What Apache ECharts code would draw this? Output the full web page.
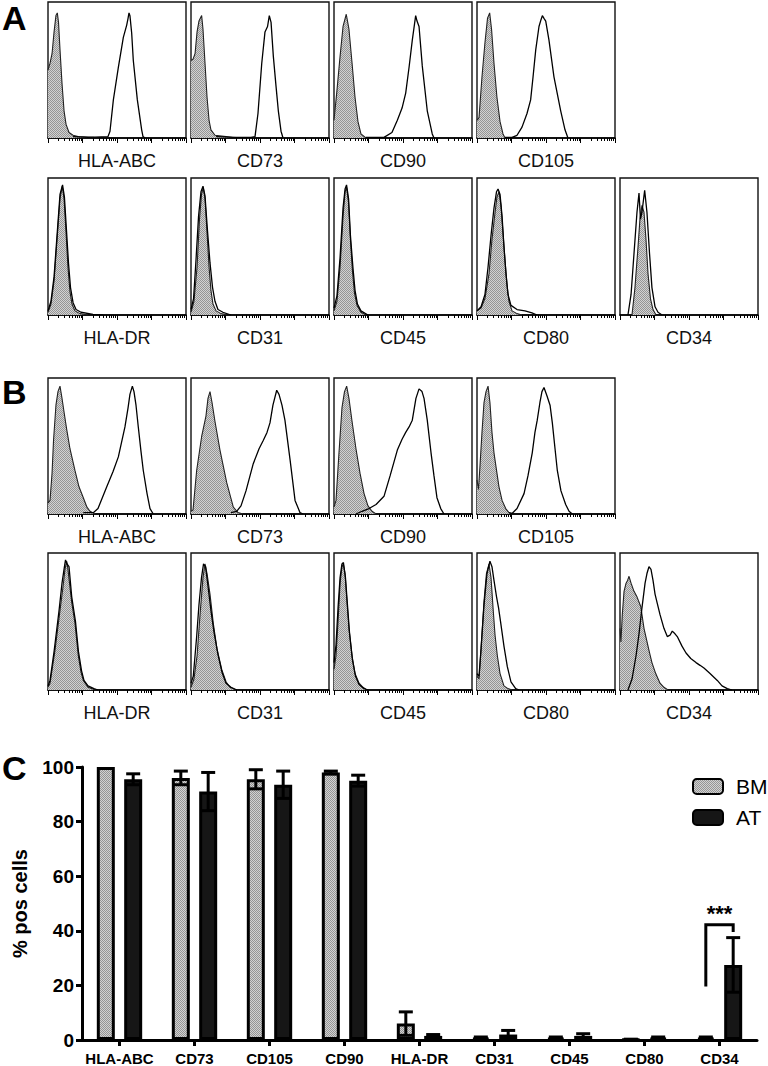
<!DOCTYPE html>
<html><head><meta charset="utf-8">
<script src="https://cdn.jsdelivr.net/npm/echarts@6/dist/echarts.min.js"></script>
<style>html,body{margin:0;padding:0;background:#fff}#c{width:768px;height:1066px}</style>
</head><body><div id="c"></div>
<script>
// ---------- Panel C data ----------
const markers = ['HLA-ABC','CD73','CD105','CD90','HLA-DR','CD31','CD45','CD80','CD34'];
const bmMean = [100, 96, 95.5, 98, 6, 0.8, 0.8, 0.2, 0.8];
const bmErr  = [0, 2.5, 3.5, 0.5, 4.3, 0.3, 0.3, 0.1, 0.3];
const atMean = [95.5, 91, 93.5, 95, 1.5, 2, 1.5, 0.8, 27.5];
const atErr  = [2, 7, 5, 2, 0.5, 1.5, 0.8, 0.3, 10];
const yTicks = [0, 20, 40, 60, 80, 100];
// significance bracket for CD34: [category index, left-leg bottom, bracket top, right-leg bottom, star level]
const sigBracket = [8, 19.6, 42.2, 39.6, 46.2];
const sigText = '***';

// ---------- Histogram labels ----------
const posMarkers = ['HLA-ABC','CD73','CD90','CD105'];
const negMarkers = ['HLA-DR','CD31','CD45','CD80','CD34'];

// ---------- Histogram curves: [channel (0-1024, 4 log decades), % of max] ----------
// Panel A, positive markers
const A_HLAABC_iso = [[0,50],[15,55],[30,62],[45,78],[59,90],[69,92],[78,85],[89,65],[104,40],[119,20],[134,10],[156,4],[186,2],[223,1],[334,0.5],[371,0]];
const A_HLAABC_pos = [[186,1],[297,0.5],[445,1],[460,5],[485,28],[522,52],[559,74],[584,83],[594,88],[601,92],[608,90],[621,77],[633,57],[663,28],[695,6],[705,1],[720,0]];
const A_CD73_iso = [[0,57],[15,58],[30,62],[45,78],[59,86],[79,90],[89,80],[104,55],[119,30],[134,13],[148,6],[178,2],[260,1],[334,0]];
const A_CD73_pos = [[186,1],[334,0.5],[445,0.5],[475,1],[497,18],[525,55],[549,78],[568,82],[581,90],[594,85],[611,60],[631,38],[648,20],[668,5],[683,0]];
const A_CD90_iso = [[0,13],[22,35],[45,60],[67,82],[91,91],[111,80],[134,55],[156,30],[178,12],[200,3],[237,0]];
const A_CD90_pos = [[237,0.5],[371,0.5],[430,4],[470,13],[505,22],[532,33],[557,52],[581,72],[606,90],[616,86],[631,82],[655,53],[692,20],[729,3],[742,0]];
const A_CD105_iso = [[0,13],[15,15],[37,45],[59,70],[78,88],[94,92],[108,80],[126,55],[148,30],[171,12],[193,3],[208,0]];
const A_CD105_pos = [[208,0.5],[260,0.5],[297,2],[334,8],[371,18],[398,28],[416,45],[436,65],[460,82],[475,87],[485,90],[497,88],[510,86],[534,72],[571,45],[621,20],[653,6],[675,0]];
// Panel A, negative markers
const A_HLADR_iso = [[0,2],[22,8],[45,25],[67,55],[89,85],[106,94],[119,85],[134,60],[148,35],[163,17],[178,8],[200,3],[237,1],[297,0]];
const A_HLADR_pos = [[0,3],[22,10],[45,28],[67,58],[89,88],[108,95],[122,86],[137,62],[152,38],[167,20],[186,9],[208,4],[245,2],[334,0.5],[408,0]];
const A_CD31_iso = [[0,2],[22,10],[45,35],[63,70],[78,88],[91,93],[104,85],[119,60],[134,35],[148,18],[163,8],[186,3],[223,1],[267,0]];
const A_CD31_pos = [[0,4],[19,12],[37,40],[56,72],[74,90],[89,94],[104,87],[122,62],[141,38],[160,20],[178,10],[200,4],[237,2],[297,0]];
const A_CD45_iso = [[0,3],[22,10],[45,35],[67,72],[82,90],[94,93],[108,82],[122,55],[137,32],[152,16],[171,7],[200,2],[237,0]];
const A_CD45_pos = [[0,5],[22,14],[45,42],[67,78],[82,92],[93,95],[108,85],[122,58],[141,34],[156,18],[174,8],[200,3],[252,0]];
const A_CD80_iso = [[0,3],[30,5],[59,12],[89,30],[111,55],[134,75],[148,86],[163,90],[178,80],[193,60],[208,40],[223,22],[237,10],[260,3],[297,1],[334,0]];
const A_CD80_pos = [[0,3],[30,6],[59,15],[82,35],[104,58],[126,78],[145,90],[156,92],[171,88],[186,72],[200,50],[215,30],[230,15],[252,7],[297,4],[356,3],[408,1.5],[445,0]];
const A_CD34_iso = [[89,0],[111,20],[134,50],[148,70],[163,80],[178,75],[193,55],[208,30],[226,12],[245,4],[267,0]];
const A_CD34_pos = [[59,0],[82,15],[104,45],[126,75],[141,89],[152,70],[163,75],[183,91],[200,75],[219,45],[237,20],[260,6],[282,2],[312,0]];
// Panel B, positive markers
const B_HLAABC_iso = [[0,8],[15,10],[30,30],[41,54],[59,80],[74,90],[89,94],[104,85],[119,75],[139,62],[163,48],[200,32],[230,20],[262,12],[289,5],[312,2],[349,0]];
const B_HLAABC_pos = [[262,1],[336,1],[371,4],[436,20],[482,31],[522,42],[571,64],[594,78],[608,88],[626,94],[638,90],[653,80],[670,64],[690,46],[707,32],[735,15],[757,4],[781,0]];
const B_CD73_iso = [[0,2],[15,3],[42,32],[79,57],[111,72],[126,85],[141,90],[156,82],[178,68],[215,47],[265,23],[314,5],[349,1],[386,0]];
const B_CD73_pos = [[297,1],[339,2],[371,6],[408,17],[462,37],[505,48],[536,54],[564,60],[586,67],[608,80],[636,91],[653,88],[675,80],[697,69],[735,40],[772,10],[809,1],[831,0]];
const B_CD90_iso = [[0,5],[15,10],[37,45],[59,78],[78,90],[94,94],[111,85],[134,68],[163,48],[193,30],[223,15],[252,6],[282,2],[312,0]];
const B_CD90_pos = [[163,0],[208,2],[260,4],[312,7],[371,13],[416,28],[470,47],[505,55],[532,60],[557,64],[581,69],[608,85],[631,92],[653,90],[668,85],[692,69],[720,45],[742,28],[764,12],[792,4],[816,0]];
const B_CD105_iso = [[0,25],[11,18],[22,35],[37,60],[52,82],[67,90],[82,94],[96,82],[111,60],[126,45],[148,30],[163,20],[186,10],[213,4],[237,1],[260,0]];
const B_CD105_pos = [[237,1],[262,0.5],[297,4],[349,15],[378,28],[410,45],[430,60],[447,69],[467,82],[482,90],[497,93],[519,87],[542,80],[559,67],[579,48],[596,32],[623,17],[658,7],[683,2],[707,0]];
// Panel B, negative markers
const B_HLADR_iso = [[0,2],[15,5],[52,29],[89,58],[111,75],[126,88],[139,94],[148,88],[176,64],[200,49],[225,25],[245,13],[262,7],[297,2],[326,1],[356,0]];
const B_HLADR_pos = [[0,3],[15,7],[45,28],[82,58],[104,78],[122,90],[130,95],[141,92],[156,90],[176,68],[204,50],[226,28],[249,14],[267,7],[297,3],[341,1],[371,0]];
const B_CD31_iso = [[0,2],[22,8],[45,25],[67,55],[89,82],[104,92],[119,85],[141,70],[165,49],[193,30],[228,15],[260,6],[289,2],[334,0]];
const B_CD31_pos = [[0,5],[17,10],[42,39],[59,62],[78,82],[93,92],[108,90],[126,76],[148,58],[171,42],[200,26],[230,13],[260,5],[297,2],[341,0]];
const B_CD45_iso = [[0,15],[15,25],[30,50],[45,78],[59,90],[69,92],[82,85],[96,65],[111,45],[134,25],[156,12],[186,5],[215,2],[245,0]];
const B_CD45_pos = [[0,20],[15,33],[30,60],[45,82],[59,92],[70,93],[85,82],[100,62],[115,42],[137,22],[160,10],[186,4],[223,1],[252,0]];
const B_CD80_iso = [[0,10],[15,8],[30,30],[52,65],[70,85],[89,92],[104,82],[119,60],[134,40],[151,25],[171,12],[200,3],[230,1],[260,0]];
const B_CD80_pos = [[0,12],[15,10],[30,30],[52,62],[74,85],[96,94],[111,90],[126,80],[145,68],[160,60],[176,49],[200,32],[225,17],[252,6],[287,1],[312,0]];
const B_CD34_iso = [[0,45],[7,35],[17,55],[30,72],[45,78],[56,80],[67,83],[82,78],[104,72],[126,68],[154,61],[178,45],[215,29],[237,20],[265,12],[297,5],[326,2],[356,0]];
const B_CD34_pos = [[59,0],[89,8],[119,25],[141,41],[163,60],[186,78],[200,85],[215,90],[230,88],[245,80],[260,70],[277,63],[297,55],[326,45],[351,39],[371,40],[388,43],[408,41],[425,39],[460,32],[490,27],[525,23],[564,20],[594,18],[623,16],[668,12],[722,7],[757,3],[796,1],[831,0]];

// ---------- Build ----------
const FONT = "'Liberation Sans', Arial, Helvetica, sans-serif";
const DEC = 256, NDEC = 4;
const majorTicks = []; for (let d = 0; d <= NDEC; d++) majorTicks.push(d * DEC);
const minorTicks = []; for (let d = 0; d < NDEC; d++) for (let k = 2; k <= 9; k++) minorTicks.push(DEC * (d + Math.log10(k)));

// stipple pattern for grey fills
const pc = document.createElement('canvas'); pc.width = 2; pc.height = 2;
const pctx = pc.getContext('2d');
pctx.fillStyle = '#d2d2d2'; pctx.fillRect(0,0,2,2);
pctx.fillStyle = '#959595'; pctx.fillRect(0,0,1,1); pctx.fillRect(1,1,1,1);
const stipple = { image: pc, repeat: 'repeat', imageWidth: 2, imageHeight: 2 };

const colLeft = [48, 191, 334, 477, 620];
const rowTop = [2, 178, 378, 553];
const rowBottom = [138, 315, 514, 690];
const panels = [
  { row: 0, names: posMarkers, iso: [A_HLAABC_iso, A_CD73_iso, A_CD90_iso, A_CD105_iso], pos: [A_HLAABC_pos, A_CD73_pos, A_CD90_pos, A_CD105_pos] },
  { row: 1, names: negMarkers, iso: [A_HLADR_iso, A_CD31_iso, A_CD45_iso, A_CD80_iso, A_CD34_iso], pos: [A_HLADR_pos, A_CD31_pos, A_CD45_pos, A_CD80_pos, A_CD34_pos] },
  { row: 2, names: posMarkers, iso: [B_HLAABC_iso, B_CD73_iso, B_CD90_iso, B_CD105_iso], pos: [B_HLAABC_pos, B_CD73_pos, B_CD90_pos, B_CD105_pos] },
  { row: 3, names: negMarkers, iso: [B_HLADR_iso, B_CD31_iso, B_CD45_iso, B_CD80_iso, B_CD34_iso], pos: [B_HLADR_pos, B_CD31_pos, B_CD45_pos, B_CD80_pos, B_CD34_pos] }
];

const grid = [], xAxis = [], yAxis = [], series = [];
panels.forEach(p => {
  p.names.forEach((name, c) => {
    const gi = grid.length;
    grid.push({ left: colLeft[c], top: rowTop[p.row], width: 138, height: rowBottom[p.row] - rowTop[p.row],
      show: true, borderColor: '#111', borderWidth: 1.4, backgroundColor: 'transparent' });
    const xi = xAxis.length;
    xAxis.push({ type: 'value', gridIndex: gi, min: 0, max: DEC * NDEC, position: 'bottom',
      axisLine: { show: true, onZero: false, lineStyle: { color: '#000', width: 1.5 } },
      axisTick: { show: true, customValues: majorTicks, length: 5, lineStyle: { color: '#000', width: 1 } },
      axisLabel: { show: false }, splitLine: { show: false },
      name: name, nameLocation: 'middle', nameGap: 14,
      nameTextStyle: { fontFamily: FONT, fontSize: 18, color: '#111', verticalAlign: 'top' } });
    xAxis.push({ type: 'value', gridIndex: gi, min: 0, max: DEC * NDEC, position: 'bottom',
      axisLine: { show: false },
      axisTick: { show: true, customValues: minorTicks, length: 3, lineStyle: { color: '#000', width: 1 } },
      axisLabel: { show: false }, splitLine: { show: false } });
    const yi = yAxis.length;
    yAxis.push({ type: 'value', gridIndex: gi, min: 0, max: 100, show: false, splitLine: { show: false } });
    series.push({ type: 'line', xAxisIndex: xi, yAxisIndex: yi, data: p.iso[c], symbol: 'none', silent: true,
      lineStyle: { color: '#222', width: 1.1 }, areaStyle: { color: stipple, opacity: 1 }, z: 2 });
    series.push({ type: 'line', xAxisIndex: xi, yAxisIndex: yi, data: p.pos[c], symbol: 'none', silent: true,
      lineStyle: { color: '#000', width: 1.3 }, z: 3 });
  });
});

// ---------- Panel C ----------
const gC = grid.length;
grid.push({ left: 82, top: 767, width: 675, height: 275 });
const xC = xAxis.length;
xAxis.push({ type: 'category', gridIndex: gC, data: markers, boundaryGap: true,
  axisLine: { show: true, lineStyle: { color: '#000', width: 3 } },
  axisTick: { show: true, alignWithLabel: true, length: 6, lineStyle: { color: '#000', width: 3 } },
  axisLabel: { fontFamily: FONT, fontSize: 15, fontWeight: 'bold', color: '#000', margin: 11, interval: 0 },
  splitLine: { show: false } });
const yC = yAxis.length;
yAxis.push({ type: 'value', gridIndex: gC, min: 0, max: 100, interval: 20,
  axisLine: { show: true, lineStyle: { color: '#000', width: 3 } },
  axisTick: { show: true, length: 6, lineStyle: { color: '#000', width: 3 } },
  axisLabel: { fontFamily: FONT, fontSize: 19, fontWeight: 'bold', color: '#000', margin: 8,
    formatter: v => yTicks.includes(v) ? String(v) : '' },
  splitLine: { show: false },
  name: '% pos cells', nameLocation: 'middle', nameGap: 52, nameRotate: 90,
  nameTextStyle: { fontFamily: FONT, fontSize: 20, fontWeight: 'bold', color: '#000' } });

const BAR_W = 18, BAR_GAP = 0.52;
const OFF = (BAR_W * (1 + BAR_GAP)) / 2;

series.push({ name: 'BM', type: 'bar', xAxisIndex: xC, yAxisIndex: yC, data: bmMean, barWidth: BAR_W, barGap: (BAR_GAP * 100) + '%',
  itemStyle: { color: stipple, borderColor: '#000', borderWidth: 3 }, z: 2 });
series.push({ name: 'AT', type: 'bar', xAxisIndex: xC, yAxisIndex: yC, data: atMean, barWidth: BAR_W,
  itemStyle: { color: '#161616', borderColor: '#000', borderWidth: 3 }, z: 2 });

function errRender(offset) {
  return function (params, api) {
    const i = api.value(0), m = api.value(1), e = api.value(2);
    if (!e) return null;
    const top = api.coord([i, m + e]);
    const bot = api.coord([i, Math.max(0, m - e)]);
    const x = top[0] + offset, hw = 7;
    const st = { stroke: '#000', lineWidth: 3 };
    return { type: 'group', children: [
      { type: 'line', shape: { x1: x, y1: top[1], x2: x, y2: bot[1] }, style: st },
      { type: 'line', shape: { x1: x - hw, y1: top[1], x2: x + hw, y2: top[1] }, style: st },
      { type: 'line', shape: { x1: x - hw, y1: bot[1], x2: x + hw, y2: bot[1] }, style: st }
    ] };
  };
}
series.push({ type: 'custom', xAxisIndex: xC, yAxisIndex: yC, renderItem: errRender(-OFF), silent: true, z: 5,
  data: markers.map((m, i) => [i, bmMean[i], bmErr[i]]) });
series.push({ type: 'custom', xAxisIndex: xC, yAxisIndex: yC, renderItem: errRender(OFF), silent: true, z: 5,
  data: markers.map((m, i) => [i, atMean[i], atErr[i]]) });
series.push({ type: 'custom', xAxisIndex: xC, yAxisIndex: yC, silent: true, z: 6,
  data: [sigBracket],
  renderItem: function (params, api) {
    const i = api.value(0);
    const lb = api.coord([i, api.value(1)]), tp = api.coord([i, api.value(2)]), rb = api.coord([i, api.value(3)]), sp = api.coord([i, api.value(4)]);
    const xl = lb[0] - OFF, xr = lb[0] + OFF;
    const st = { stroke: '#000', lineWidth: 3, fill: null };
    return { type: 'group', children: [
      { type: 'polyline', shape: { points: [[xl, lb[1]], [xl, tp[1]], [xr, tp[1]], [xr, rb[1]]] }, style: st },
      { type: 'text', style: { text: sigText, x: lb[0], y: sp[1], align: 'center', verticalAlign: 'middle',
        font: 'bold 22px ' + FONT, fill: '#000' } }
    ] };
  } });

const option = {
  animation: false,
  backgroundColor: '#fff',
  grid, xAxis, yAxis, series,
  legend: { left: 687, top: 771, orient: 'vertical', itemWidth: 30, itemHeight: 15, itemGap: 10,
    data: ['BM', 'AT'], selectedMode: false,
    textStyle: { fontFamily: FONT, fontSize: 21, color: '#000', padding: [0, 0, 0, 8] } },
  graphic: [
    { type: 'text', left: 2, top: 1, style: { text: 'A', font: 'bold 34px ' + FONT, fill: '#000' } },
    { type: 'text', left: 2, top: 375, style: { text: 'B', font: 'bold 34px ' + FONT, fill: '#000' } },
    { type: 'text', left: 2, top: 751, style: { text: 'C', font: 'bold 34px ' + FONT, fill: '#000' } }
  ]
};
const chart = echarts.init(document.getElementById('c'), null, { renderer: 'svg', width: 768, height: 1066 });
chart.setOption(option);
</script>
</body></html>
